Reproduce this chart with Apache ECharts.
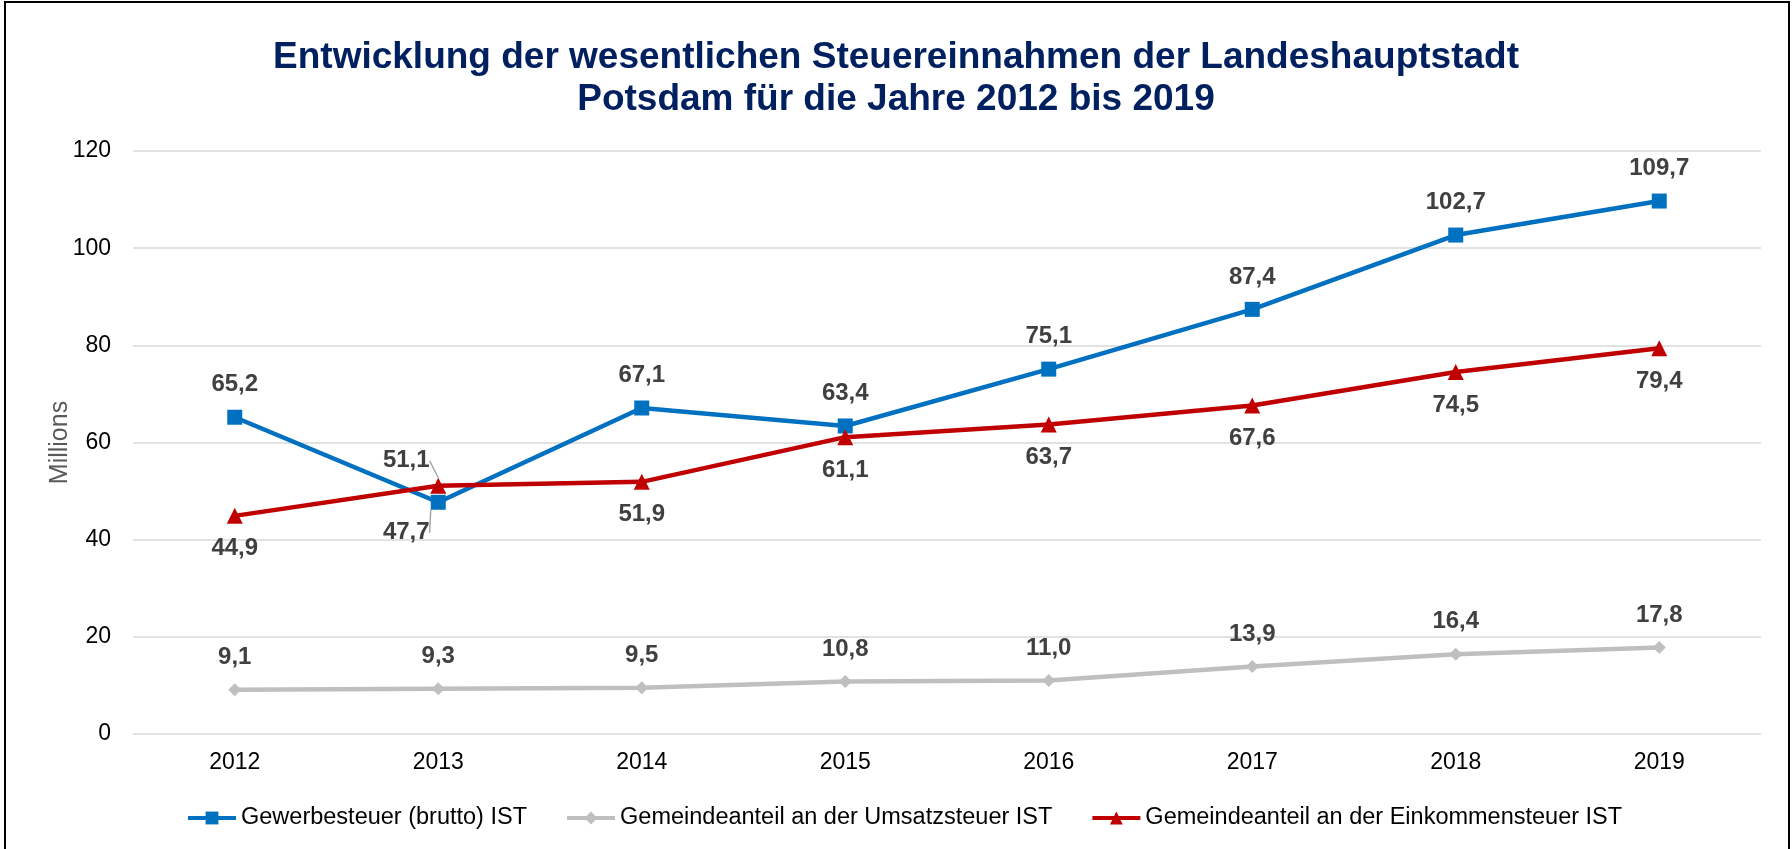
<!DOCTYPE html>
<html>
<head>
<meta charset="utf-8">
<script src="https://cdn.jsdelivr.net/npm/echarts@6/dist/echarts.min.js"></script>
<style>
    html, body { margin: 0; padding: 0; background: #fff; }
    #wrap { position: relative; width: 1792px; height: 849px; overflow: hidden; }
    #chart { width: 1792px; height: 849px; }
    #frame {
        position: absolute; left: 4px; top: 1px; width: 1782px; height: 900px;
        border: 2px solid #000; pointer-events: none;
    }
</style>
</head>
<body>
<div id="wrap">
    <div id="chart"></div>
    <div id="frame"></div>
</div>
<script>
// Jahre (Kategorien)
const years = ["2012", "2013", "2014", "2015", "2016", "2017", "2018", "2019"]
// Werte in Mio. EUR
const gewerbesteuer = [65.2, 47.7, 67.1, 63.4, 75.1, 87.4, 102.7, 109.7]
const umsatzsteuer = [9.1, 9.3, 9.5, 10.8, 11.0, 13.9, 16.4, 17.8]
const einkommensteuer = [44.9, 51.1, 51.9, 61.1, 63.7, 67.6, 74.5, 79.4]
// y-Achse
const yMin = 0
const yMax = 120
const yStep = 20

const seriesNames = [
    "Gewerbesteuer (brutto) IST",
    "Gemeindeanteil an der Umsatzsteuer IST",
    "Gemeindeanteil an der Einkommensteuer IST"
]

const font = "'Liberation Sans', Arial, sans-serif"

function fmt(p) {
    return p.value.toFixed(1).replace(".", ",")
}

// 2013: Beschriftung verschoben, mit Führungslinie
function shifted(values, idx, pos) {
    return values.map(function (v, i) {
        if (i === idx) {
            return { value: v, label: { position: pos }, labelLine: { show: true } }
        }
        return v
    })
}

let chart = echarts.init(document.getElementById("chart"))

let labelBase = {
    show: true,
    formatter: fmt,
    fontFamily: font,
    fontSize: 24,
    fontWeight: "bold",
    color: "#404040"
}

let option = {
    animation: false,
    title: {
        text: "Entwicklung der wesentlichen Steuereinnahmen der Landeshauptstadt\nPotsdam für die Jahre 2012 bis 2019",
        left: "center",
        top: 32,
        textStyle: {
            fontFamily: font,
            fontSize: 37,
            fontWeight: "bold",
            color: "#002060",
            lineHeight: 42
        }
    },
    grid: {
        left: 133,
        right: 31,
        top: 151,
        bottom: 115
    },
    legend: {
        data: seriesNames,
        top: 801,
        left: 181,
        itemWidth: 48,
        itemHeight: 16,
        itemGap: 38,
        lineStyle: { width: 4 },
        textStyle: { fontFamily: font, fontSize: 23.5, color: "#000" }
    },
    xAxis: {
        type: "category",
        data: years,
        axisLine: { show: false },
        axisTick: { show: false },
        axisLabel: { fontFamily: font, fontSize: 23, color: "#000", margin: 17 }
    },
    yAxis: {
        type: "value",
        min: yMin,
        max: yMax,
        interval: yStep,
        name: "Millions",
        nameLocation: "middle",
        nameRotate: 90,
        nameGap: 60,
        nameMoveOverlap: false,
        nameTextStyle: { fontFamily: font, fontSize: 25, color: "#595959" },
        axisLabel: { fontFamily: font, fontSize: 23, color: "#000", margin: 22 },
        splitLine: { lineStyle: { color: "#d9d9d9", width: 1.5 } }
    },
    series: [
        {
            name: seriesNames[0],
            type: "line",
            data: shifted(gewerbesteuer, 1, "bottom"),
            symbol: "rect",
            symbolSize: 15,
            color: "#0070c0",
            lineStyle: { width: 4.5 },
            label: Object.assign({ position: "top", distance: 13 }, labelBase),
            labelLine: { show: false, lineStyle: { color: "#a6a6a6", width: 1.5 } },
            labelLayout: function (p) {
                return p.dataIndex === 1 ? { dx: -32, dy: -2 } : {}
            }
        },
        {
            name: seriesNames[1],
            type: "line",
            data: umsatzsteuer,
            symbol: "diamond",
            symbolSize: 13,
            color: "#bfbfbf",
            lineStyle: { width: 4.5 },
            label: Object.assign({ position: "top", distance: 14 }, labelBase)
        },
        {
            name: seriesNames[2],
            type: "line",
            data: shifted(einkommensteuer, 1, "top"),
            symbol: "triangle",
            symbolSize: 16,
            color: "#c00000",
            lineStyle: { width: 4.5 },
            label: Object.assign({ position: "bottom", distance: 13 }, labelBase),
            labelLine: { show: false, lineStyle: { color: "#a6a6a6", width: 1.5 } },
            labelLayout: function (p) {
                return p.dataIndex === 1 ? { dx: -32, dy: 8 } : {}
            }
        }
    ]
}

chart.setOption(option)
</script>
</body>
</html>
